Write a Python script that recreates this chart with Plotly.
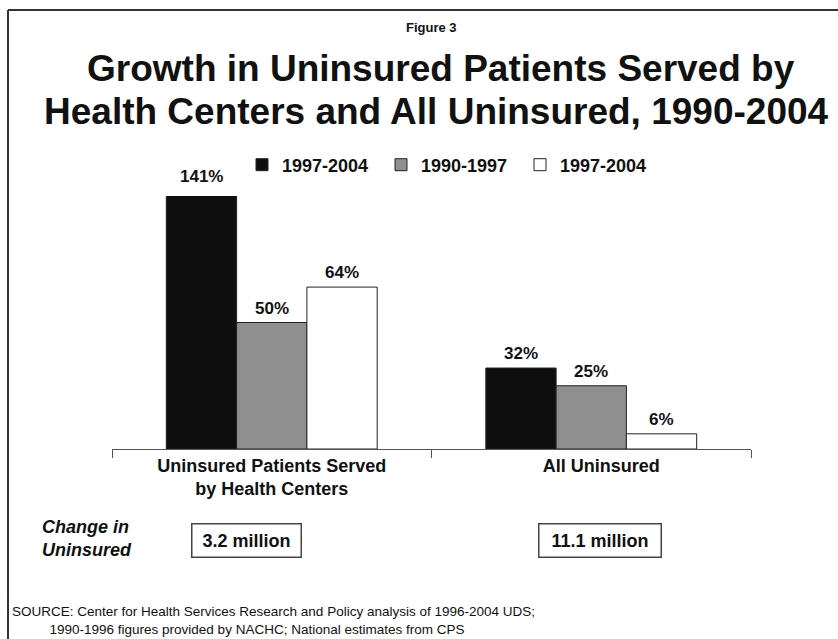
import plotly.graph_objects as go

# ---- data ----
categories = ["Uninsured Patients Served<br>by Health Centers", "All Uninsured"]
series_names = ["1997-2004", "1990-1997", "1997-2004"]
growth_black = [141, 32]
growth_gray = [50, 25]
growth_white = [64, 6]
change_in_uninsured = ["3.2 million", "11.1 million"]

series_values = [growth_black, growth_gray, growth_white]
series_colors = ["#0e0e0e", "#8f8f8f", "#ffffff"]

W, H = 838, 639
L, R, T, B = 112, 87, 196, 190
PW, PH = W - L - R, H - T - B
YMAX = 100
FONT = "Liberation Sans, Arial, sans-serif"


def px_x(x):
    return (x - L) / PW


def px_y(y):
    return (H - B - y) / PH


fig = go.Figure()
for name, vals, col in zip(series_names, series_values, series_colors):
    fig.add_trace(go.Bar(
        x=categories, y=vals, name=f"<b>{name}</b>",
        marker=dict(color=col, line=dict(color="#222222", width=1)),
        cliponaxis=True, hoverinfo="skip",
    ))

bargap = 0.34
bw = (1 - bargap) / len(series_values)
annotations = []
for si, vals in enumerate(series_values):
    off = (si - (len(series_values) - 1) / 2) * bw
    for ci, v in enumerate(vals):
        annotations.append(dict(
            x=ci + off, y=min(v, YMAX), xref="x", yref="y",
            text=f"<b>{v}%</b>", showarrow=False, yanchor="bottom",
            yshift=3 if v < YMAX else 8,
            font=dict(size=17, color="#111", family=FONT),
        ))

# title texts
annotations += [
    dict(x=0.5, y=px_y(27), xref="paper", yref="paper", text="<b>Figure 3</b>",
         showarrow=False, font=dict(size=13, color="#111", family=FONT), yanchor="middle"),
    dict(x=px_x(441), y=px_y(68), xref="paper", yref="paper",
         text="<b>Growth in Uninsured Patients Served by</b>",
         showarrow=False, font=dict(size=37, color="#111", family=FONT), yanchor="middle"),
    dict(x=px_x(436), y=px_y(112), xref="paper", yref="paper",
         text="<b>Health Centers and All Uninsured, 1990-2004</b>",
         showarrow=False, font=dict(size=37, color="#111", family=FONT), yanchor="middle"),
    dict(x=px_x(40), y=px_y(538), xref="paper", yref="paper",
         text="<b><i>Change in</i></b><br><b><i>Uninsured</i></b>", align="left",
         showarrow=False, xanchor="left", yanchor="middle",
         font=dict(size=18, color="#111", family=FONT)),
    dict(x=px_x(10), y=px_y(620), xref="paper", yref="paper",
         text="SOURCE: Center for Health Services Research and Policy analysis of 1996-2004 UDS;<br>"
              "          1990-1996 figures provided by NACHC; National estimates from CPS",
         showarrow=False, xanchor="left", yanchor="middle", align="left",
         font=dict(size=13.5, color="#111", family=FONT)),
]
box_centers = [246, 600]
box_widths = [108, 121]
for cx, bwid, txt in zip(box_centers, box_widths, change_in_uninsured):
    annotations.append(dict(
        x=px_x(cx), y=px_y(540), xref="paper", yref="paper",
        xanchor="center", yanchor="middle",
        text=f"<b>{txt}</b>", showarrow=False, width=bwid, height=32,
        align="center", valign="middle", borderpad=0,
        bordercolor="#444444", borderwidth=1.5, bgcolor="white",
        font=dict(size=18, color="#111", family=FONT),
    ))

shapes = [
    dict(type="line", xref="paper", yref="paper", x0=px_x(8), x1=px_x(845),
         y0=px_y(10), y1=px_y(10), line=dict(color="#333", width=2)),
    dict(type="line", xref="paper", yref="paper", x0=px_x(8), x1=px_x(8),
         y0=px_y(10), y1=px_y(650), line=dict(color="#333", width=2)),
]

fig.update_layout(
    width=W, height=H,
    margin=dict(l=L, r=R, t=T, b=B),
    paper_bgcolor="white", plot_bgcolor="white",
    barmode="group", bargap=bargap, bargroupgap=0,
    showlegend=True,
    legend=dict(orientation="h", x=px_x(242), y=px_y(165), xanchor="left", yanchor="middle",
                font=dict(size=18, color="#111", family=FONT), bgcolor="rgba(0,0,0,0)",
                entrywidth=94, entrywidthmode="pixels",
                itemclick=False, traceorder="normal"),
    font=dict(family=FONT, color="#111"),
    annotations=annotations,
    shapes=shapes,
    xaxis=dict(showline=True, linecolor="#555", linewidth=1, ticks="outside",
               tickson="boundaries", ticklen=8, tickcolor="#555",
               tickfont=dict(size=18, color="#111", family=FONT),
               showgrid=False, fixedrange=True),
    yaxis=dict(range=[0, YMAX], visible=False, showgrid=False, fixedrange=True),
)
tick_text = [f"<b>{c}</b>".replace("<br>", "</b><br><b>") for c in categories]
tick_text[1] = "&nbsp;&nbsp;&nbsp;&nbsp;" + tick_text[1]
fig.update_xaxes(tickvals=categories, ticktext=tick_text)

fig.write_html("out.html", config={"displayModeBar": False},
               post_script="document.body.style.margin='0';")
